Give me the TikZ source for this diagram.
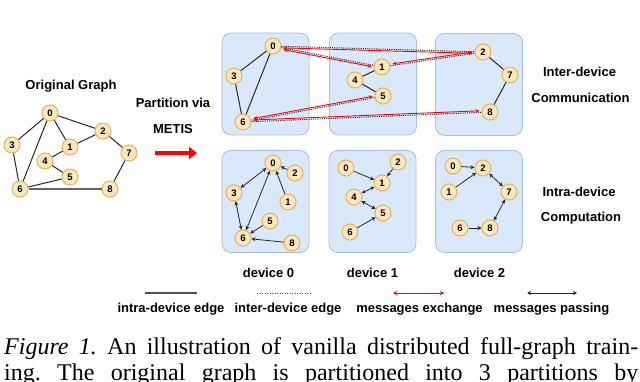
\documentclass[tikz,border=0pt]{standalone}
\usepackage{fontspec}
\setmainfont{Liberation Serif}
\setsansfont{Liberation Sans}
\usetikzlibrary{arrows.meta}
\definecolor{boxfill}{RGB}{218,232,252}
\definecolor{boxdraw}{RGB}{165,192,230}
\definecolor{nodefill}{RGB}{255,230,190}
\definecolor{nodedraw}{RGB}{226,178,92}
\definecolor{edgecol}{RGB}{40,40,40}
\begin{document}
\begin{tikzpicture}[x=1pt,y=-1pt,
  vnode/.style={circle, draw=nodedraw, fill=nodefill, line width=1pt, minimum size=16pt, inner sep=0pt, font=\sffamily\bfseries\fontsize{9.5}{10}\selectfont},
  devbox/.style={draw=boxdraw, fill=boxfill, rounded corners=9pt, line width=0.8pt, minimum width=87pt, minimum height=102pt, inner sep=0pt},
  lbl/.style={font=\sffamily\bfseries\fontsize{13}{15}\selectfont, inner sep=0pt},
  edge/.style={draw=edgecol, line width=1pt},
  thickedge/.style={draw=gray!80!black, line width=2pt},
  inter/.style={draw=edgecol, line width=1pt, dash pattern=on 1pt off 1.2pt},
  xch/.style={draw=red, line width=0.9pt, {Stealth[length=4pt,width=3.6pt]}-{Stealth[length=4pt,width=3.6pt]}, shorten <=2pt, shorten >=2pt},
  pass/.style={draw=edgecol, line width=0.8pt, {Stealth[length=4pt,width=4pt]}-{Stealth[length=4pt,width=4pt]}},
  one/.style={draw=edgecol, line width=0.8pt, -{Stealth[length=4pt,width=4pt]}},
  captext/.style={anchor=base west, inner sep=0pt, font=\fontsize{24}{28}\selectfont\frenchspacing},
]
\useasboundingbox (0,0) rectangle (640,382);

% ---------- original graph ----------
\node[lbl] (origlbl) at (71,86) {Original Graph};
\node[vnode] (o0) at (50,113) {0};
\node[vnode] (o2) at (103,131) {2};
\node[vnode] (o3) at (12,145) {3};
\node[vnode] (o1) at (70,147) {1};
\node[vnode] (o7) at (129,153) {7};
\node[vnode] (o4) at (45,161) {4};
\node[vnode] (o5) at (70,177) {5};
\node[vnode] (o6) at (20,189) {6};
\node[vnode] (o8) at (110,189) {8};
\draw[edge] (o0) -- (o3);
\draw[edge] (o0) -- (o1);
\draw[edge] (o0) -- (o2);
\draw[edge] (o0) -- (o6);
\draw[edge] (o2) -- (o1);
\draw[edge] (o2) -- (o7);
\draw[edge] (o1) -- (o4);
\draw[edge] (o4) -- (o5);
\draw[edge] (o5) -- (o6);
\draw[edge] (o3) -- (o6);
\draw[edge] (o7) -- (o8);
\draw[thickedge] (o6) -- (o8);

% ---------- partition arrow ----------
\node[lbl] (pvia) at (173,103) {Partition via};
\node[lbl] (metis) at (173,129) {METIS};
\coordinate (pa1) at (155,153);
\coordinate (pa2) at (197,153);
\draw[red, line width=4pt, -{Triangle[length=8pt,width=12pt]}] (pa1) -- (pa2);

% ---------- boxes ----------
\node[devbox] (bt0) at (265.5,84) {};
\node[devbox] (bt1) at (373,84) {};
\node[devbox] (bt2) at (479,84.5) {};
\node[devbox] (bb0) at (265.5,201.5) {};
\node[devbox] (bb1) at (372.5,201.5) {};
\node[devbox] (bb2) at (479,201.5) {};

% ---------- top row ----------
\node[vnode] (t0) at (273,46) {0};
\node[vnode] (t3) at (234,76) {3};
\node[vnode] (t6) at (243,122) {6};
\node[vnode] (t1) at (382,67) {1};
\node[vnode] (t4) at (355,80) {4};
\node[vnode] (t5) at (383,96) {5};
\node[vnode] (t2) at (483,52) {2};
\node[vnode] (t7) at (510,75) {7};
\node[vnode] (t8) at (490,112) {8};
\draw[edge] (t0) -- (t3);
\draw[edge] (t0) -- (t6);
\draw[edge] (t3) -- (t6);
\draw[edge] (t1) -- (t4);
\draw[edge] (t4) -- (t5);
\draw[edge] (t2) -- (t7);
\draw[edge] (t7) -- (t8);
\draw[inter] (t0) -- (t2);
\draw[inter] (t0) -- (t1);
\draw[inter] (t1) -- (t2);
\draw[inter] (t5) -- (t6);
\draw[inter] (t6) -- (t8);
\draw[xch, transform canvas={yshift=-1.6pt}] (t0) -- (t2);
\draw[xch, transform canvas={yshift=-1.6pt}] (t0) -- (t1);
\draw[xch, transform canvas={yshift=1.6pt}] (t1) -- (t2);
\draw[xch, transform canvas={yshift=1.6pt}] (t5) -- (t6);
\draw[xch, transform canvas={yshift=1.6pt}] (t6) -- (t8);

% ---------- bottom row, device 0 ----------
\node[vnode] (a0) at (273,163) {0};
\node[vnode] (a2) at (295,173) {2};
\node[vnode] (a3) at (234,193) {3};
\node[vnode] (a1) at (288,202) {1};
\node[vnode] (a5) at (270,221) {5};
\node[vnode] (a6) at (243,238) {6};
\node[vnode] (a8) at (292,243) {8};
\draw[pass] (a0) -- (a3);
\draw[pass] (a0) -- (a6);
\draw[pass] (a3) -- (a6);
\draw[one] (a2) -- (a0);
\draw[one] (a1) -- (a0);
\draw[one] (a5) -- (a6);
\draw[one] (a8) -- (a6);

% ---------- bottom row, device 1 ----------
\node[vnode] (b0) at (346,168) {0};
\node[vnode] (b2) at (398,162) {2};
\node[vnode] (b1) at (382,183) {1};
\node[vnode] (b4) at (354,197) {4};
\node[vnode] (b5) at (383,213) {5};
\node[vnode] (b6) at (350,232) {6};
\draw[one] (b0) -- (b1);
\draw[one] (b2) -- (b1);
\draw[pass] (b1) -- (b4);
\draw[pass] (b4) -- (b5);
\draw[one] (b6) -- (b5);

% ---------- bottom row, device 2 ----------
\node[vnode] (c0) at (453,166) {0};
\node[vnode] (c2) at (483,168) {2};
\node[vnode] (c1) at (449,192) {1};
\node[vnode] (c7) at (509,192) {7};
\node[vnode] (c6) at (460,228) {6};
\node[vnode] (c8) at (490,228) {8};
\draw[one] (c0) -- (c2);
\draw[one] (c1) -- (c2);
\draw[pass] (c2) -- (c7);
\draw[pass] (c7) -- (c8);
\draw[one] (c6) -- (c8);

% ---------- device labels ----------
\node[lbl] (d0) at (268.5,273) {device 0};
\node[lbl] (d1) at (372.5,273) {device 1};
\node[lbl] (d2) at (479.5,273) {device 2};

% ---------- right labels ----------
\node[lbl] (ir1) at (579.5,72) {Inter-device};
\node[lbl] (ir2) at (580.5,98) {Communication};
\node[lbl] (ia1) at (579,192) {Intra-device};
\node[lbl] (ia2) at (581,218) {Computation};

% ---------- legend ----------
\coordinate (l1a) at (145,293); \coordinate (l1b) at (197,293);
\coordinate (l2a) at (257,293); \coordinate (l2b) at (310,293);
\coordinate (l3a) at (393,293); \coordinate (l3b) at (444,293);
\coordinate (l4a) at (527,293); \coordinate (l4b) at (577,293);
\draw[draw=edgecol!80, line width=1.1pt] (l1a) -- (l1b);
\draw[draw=edgecol!80, line width=1pt, dash pattern=on 1pt off 1.5pt] (l2a) -- (l2b);
\draw[draw=red, line width=0.8pt, {Stealth[length=4pt,width=4pt]}-{Stealth[length=4pt,width=4pt]}] (l3a) -- (l3b);
\draw[pass] (l4a) -- (l4b);
\node[lbl] (lg1) at (171,309) {intra-device edge};
\node[lbl] (lg2) at (288,309) {inter-device edge};
\node[lbl] (lg3) at (419.5,309) {messages exchange};
\node[lbl] (lg4) at (551.5,309) {messages passing};

% ---------- caption ----------
\node[captext] (cap1) at (4,354)
  {\makebox[634pt][s]{\textit{Figure 1.} An illustration of vanilla distributed full-graph train-}};
\node[captext] (cap2) at (4,380)
  {\makebox[634pt][s]{ing. The original graph is partitioned into 3 partitions by}};
\end{tikzpicture}
\end{document}
